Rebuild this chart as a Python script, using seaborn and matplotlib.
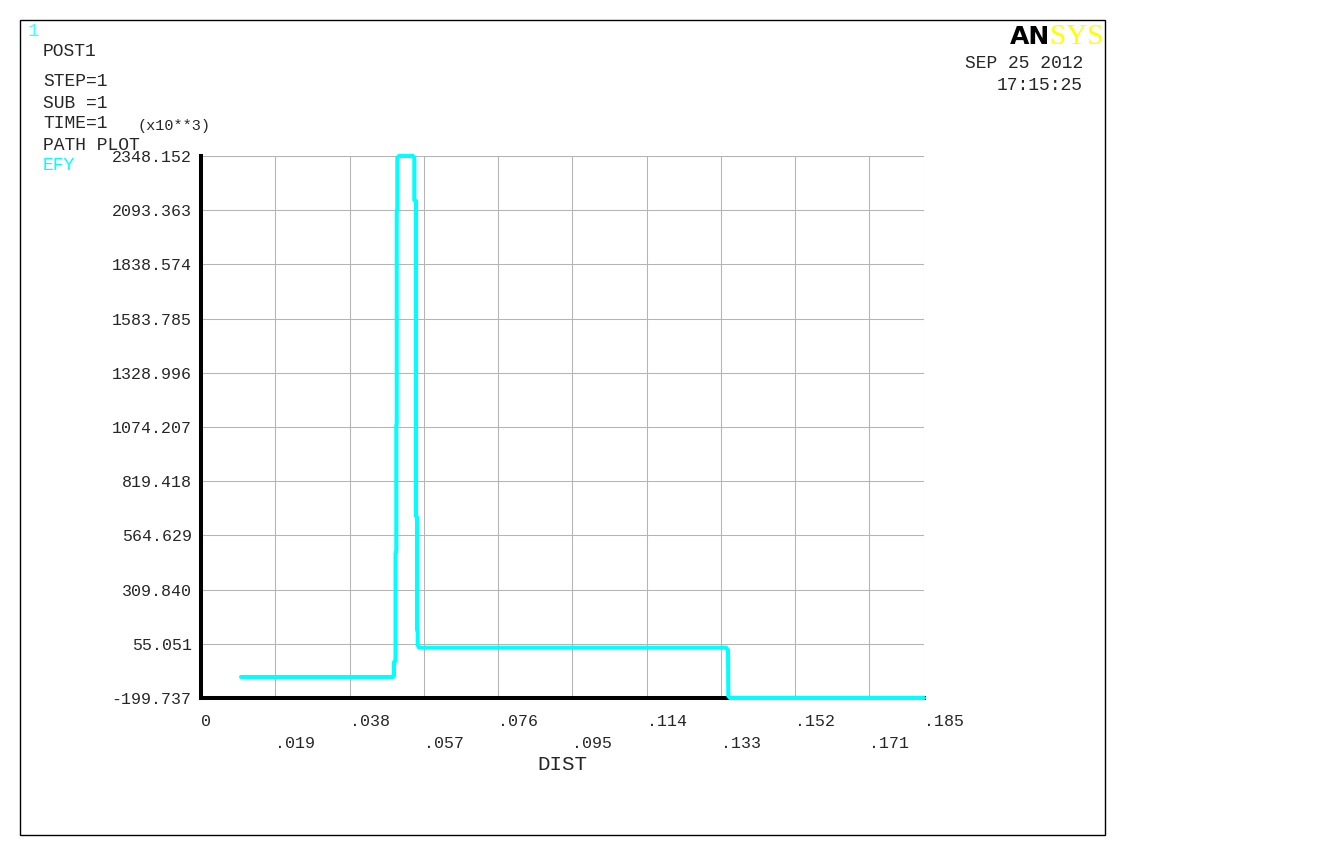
import matplotlib
matplotlib.use("Agg")
import matplotlib.pyplot as plt
from matplotlib.patches import Rectangle
import seaborn as sns

# ====================
# DATA (EFY along path, x10**3)
# ====================
dist = [0.01024, 0.04913, 0.04938, 0.04938, 0.04977, 0.04977, 0.04997, 0.04997,
        0.05008, 0.05008, 0.05023, 0.05023, 0.05066, 0.05425, 0.05458, 0.05458,
        0.05501, 0.05501, 0.05527, 0.05527, 0.05545, 0.05545, 0.05578, 0.13434,
        0.13485, 0.13492, 0.13536, 0.18500]
efy = [-101.0, -101.0, -96.3, -30.5, -25.8, 481.9, 486.6, 1083.6,
       1088.3, 2089.6, 2094.3, 2338.8, 2348.152, 2348.152, 2338.8, 2141.4,
       2136.7, 655.8, 651.1, 119.9, 115.2, 49.4, 36.7, 36.7,
       25.9, -190.3, -199.737, -199.737]

x_major = [0, 0.038, 0.076, 0.114, 0.152, 0.185]
x_major_labels = ["0", ".038", ".076", ".114", ".152", ".185"]
x_minor = [0.019, 0.057, 0.095, 0.133, 0.171]
x_minor_labels = [".019", ".057", ".095", ".133", ".171"]

y_ticks = [-199.737, 55.051, 309.840, 564.629, 819.418, 1074.207,
           1328.996, 1583.785, 1838.574, 2093.363, 2348.152]
y_tick_labels = ["-199.737", "55.051", "309.840", "564.629", "819.418", "1074.207",
                 "1328.996", "1583.785", "1838.574", "2093.363", "2348.152"]

# ====================
# STYLE
# ====================
sns.set_style("white")
plt.rcParams["font.family"] = ["Liberation Mono", "DejaVu Sans Mono"]

W, H = 1336, 855
fig = plt.figure(figsize=(W / 100, H / 100), dpi=100)
fig.patch.set_facecolor("white")


def px(x, y):
    return x / W, 1 - y / H


ax = fig.add_axes([201 / W, 1 - 698 / H, 723 / W, 542 / H])

grid_c = "#b4b4b4"
sns.lineplot(x=dist, y=efy, sort=False, estimator=None, color="#00ffff",
             linewidth=2.9, ax=ax, clip_on=False, zorder=5)

ax.set_xlim(0, 0.185)
ax.set_ylim(-199.737, 2348.152)

ax.set_xticks(x_major)
ax.set_xticklabels(x_major_labels)
ax.set_xticks(x_minor, minor=True)
ax.set_xticklabels(x_minor_labels, minor=True)
ax.set_yticks(y_ticks)
ax.set_yticklabels(y_tick_labels)

ax.grid(True, which="major", color=grid_c, linewidth=0.75)
ax.xaxis.grid(True, which="minor", color=grid_c, linewidth=0.75)

ax.tick_params(axis="x", which="major", length=5, width=0.75, color=grid_c,
               pad=6.5, labelsize=12)
ax.tick_params(axis="x", which="minor", length=10.5, width=0.75, color=grid_c,
               pad=16.5, labelsize=12)
ax.tick_params(axis="y", length=5.8, width=0.75, color=grid_c, pad=1, labelsize=12)
for lab in ax.get_xticklabels(which="both"):
    lab.set_horizontalalignment("left")

for side in ["top", "right"]:
    ax.spines[side].set_visible(False)
for side in ["left", "bottom"]:
    ax.spines[side].set_color("black")
    ax.spines[side].set_linewidth(2.9)

ax.set_xlabel("DIST", fontsize=15, labelpad=3.5)
ax.set_ylabel("")

# ====================
# ANNOTATIONS
# ====================
fig.text(*px(28, 31), "1", color="#40ffff", fontsize=14, va="center", ha="left")
left_lines = [("POST1", 51), ("STEP=1", 82), ("SUB =1", 103), ("TIME=1", 124),
              ("PATH PLOT", 145)]
for txt, yy in left_lines:
    fig.text(*px(43, yy), txt, fontsize=13, va="center", ha="left")
fig.text(*px(43, 166), "EFY", fontsize=13, va="center", ha="left", color="#00ffff")
fig.text(*px(138, 126), "(x10**3)", fontsize=11, va="center", ha="left")

fig.text(*px(1083, 64), "SEP 25 2012", fontsize=13, va="center", ha="right")
fig.text(*px(1083, 85), "17:15:25", fontsize=13, va="center", ha="right")

fig.text(*px(1010, 44), "AN", fontsize=18, fontweight="bold", family="DejaVu Sans",
         color="black", va="baseline", ha="left")
fig.text(*px(1050, 44), "SYS", fontsize=21, family="Liberation Serif",
         color="#ffff00", va="baseline", ha="left")

frame = Rectangle(px(20, 835), 1085 / W, 815 / H, transform=fig.transFigure,
                  fill=False, edgecolor="black", linewidth=1)
fig.add_artist(frame)

fig.savefig("out.png", dpi=100)
plt.close()
